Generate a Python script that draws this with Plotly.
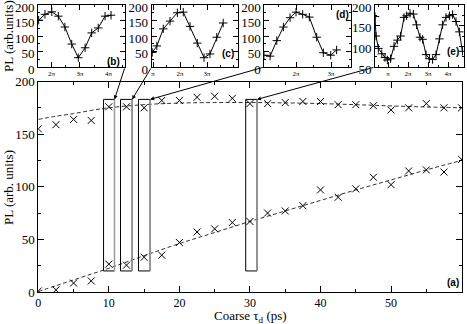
import plotly.graph_objects as go

W, H = 467, 324

# ---------------- main panel (a) data ----------------
tau = [0, 2.5, 5, 7.5, 10, 12.5, 15, 17.5, 20, 22.5, 25, 27.5, 30, 32.5, 35,
       37.5, 40, 42.5, 45, 47.5, 50, 52.5, 55, 57.5, 60]
pl_upper = [155, 159, 164, 163, 176, 176, 175, 182, 182, 185, 186, 184, 179, 179, 180,
            181, 181, 178, 178, 177, 173, 175, 179, 175, 175]
pl_lower = [1, 2, 8.5, 10.5, 26.5, 25.5, 33, 35, 47, 57, 60, 66, 67, 75, 77,
            82, 97, 90, 98, 109, 102, 115, 116, 114, 126]

fit_tau = [0, 2.5, 5, 7.5, 10, 15, 20, 25, 30, 35, 40, 45, 50, 55, 60]
fit_upper = [164, 167, 169.5, 172.5, 175, 178, 179.5, 180, 180, 179.7, 179, 178, 176.8, 175.8, 175]
fit_lower = [0.5, 6, 11.5, 17, 22.5, 34.5, 46, 56.5, 67, 77, 87, 97, 106.5, 116, 125]

# highlighted windows (fine-delay scans)
rect_x0 = [9.25, 11.65, 14.2, 29.4]
rect_x1 = [10.8, 13.3, 15.85, 31.0]
rect_bottom = 20
rect_top = 183

# ---------------- inset data (x in units of pi) ----------------
b_x = [1.55, 1.77, 2.01, 2.24, 2.47, 2.71, 2.94, 3.18, 3.41, 3.64, 3.88, 4.09]
b_y = [151, 170, 178, 164, 129, 74, 30, 62, 110, 126, 164, 167]

c_x = [0.97, 1.14, 1.38, 1.63, 1.90, 2.12, 2.37, 2.64, 2.89, 3.11, 3.36, 3.60]
c_y = [47, 68, 123, 148, 175, 177, 131, 77, 30, 42, 96, 142]

d_x = [1.09, 1.26, 1.45, 1.64, 1.83, 2.00, 2.19, 2.38, 2.59, 2.78, 2.99, 3.16]
d_y = [38, 35, 85, 129, 159, 177, 170, 161, 96, 46, 38, 55]

e_x = [0.35, 0.40, 0.52, 0.69, 0.85, 0.97, 1.13, 1.30, 1.47, 1.63, 1.80, 1.93, 2.10,
       2.27, 2.43, 2.60, 2.73, 2.90, 3.07, 3.23, 3.40, 3.57, 3.73, 3.90, 4.07, 4.23,
       4.40, 4.57, 4.72]
e_y = [172, 125, 95, 82, 73, 67, 70, 100, 115, 125, 170, 174, 180,
       178, 152, 122, 117, 80, 70, 68, 80, 118, 152, 170, 174, 177,
       160, 135, 88]

inset_labels = ["(b)", "(c)", "(d)", "(e)"]
inset_xticks = {
    "b": ([2, 3, 4], ["2π", "3π", "4π"]),
    "c": ([1, 2, 3], ["π", "2π", "3π"]),
    "d": ([2, 3], ["2π", "3π"]),
    "e": ([1, 2, 3, 4], ["π", "2π", "3π", "4π"]),
}

# ---------------- layout geometry (pixels) ----------------
main_px = (38.3, 462.3)
main_py = (81.5, 292.0)
main_xrange = [0, 60.1]
main_yrange = [0, 200]

inset_px = [(38.0, 125.0), (151.7, 238.3), (264.3, 351.0), (375.0, 464.0)]
inset_py = (5.0, 67.0)
inset_xranges = [[1.526, 4.58], [0.95, 4.16], [1.094, 3.57], [0.35, 4.8]]
inset_yranges = [[0, 200], [0, 200], [0, 200], [50, 200]]


def xdom(p):
    return [p[0] / W, p[1] / W]


def ydom(p):
    return [1 - p[1] / H, 1 - p[0] / H]


SERIF = "Liberation Serif"
fig = go.Figure()

line_dash = dict(color="#333333", width=1, dash="4px,2.5px")
fig.add_trace(go.Scatter(x=fit_tau, y=fit_upper, mode="lines", line=dict(line_dash, shape="spline"),
                         xaxis="x", yaxis="y", hoverinfo="skip"))
fig.add_trace(go.Scatter(x=fit_tau, y=fit_lower, mode="lines", line=dict(line_dash, shape="spline"),
                         xaxis="x", yaxis="y", hoverinfo="skip"))
mk = dict(symbol="x-thin-open", size=7, color="black", line=dict(color="black", width=1))
fig.add_trace(go.Scatter(x=tau, y=pl_upper, mode="markers", marker=mk, xaxis="x", yaxis="y"))
fig.add_trace(go.Scatter(x=tau, y=pl_lower, mode="markers", marker=mk, xaxis="x", yaxis="y"))

inset_data = [(b_x, b_y), (c_x, c_y), (d_x, d_y), (e_x, e_y)]
for i, (xs, ys) in enumerate(inset_data):
    n = i + 2
    fig.add_trace(go.Scatter(
        x=xs, y=ys, mode="lines+markers",
        line=dict(color="black", width=1),
        marker=dict(symbol="cross-thin-open", size=6, color="black", line=dict(color="black", width=1)),
        xaxis=f"x{n}", yaxis=f"y{n}"))

axis_common = dict(showline=True, linecolor="black", linewidth=1, mirror="ticks",
                   ticks="inside", tickcolor="black", showgrid=False, zeroline=False,
                   automargin=False, ticklabeloverflow="allow")

layout = dict(
    width=W, height=H, margin=dict(l=0, r=0, t=0, b=0, autoexpand=False),
    paper_bgcolor="white", plot_bgcolor="white", showlegend=False,
    font=dict(family=SERIF, color="black", size=13),
    xaxis=dict(axis_common, domain=xdom(main_px), range=main_xrange,
               tickvals=[0, 10, 20, 30, 40, 50], ticklen=6,
               minor=dict(tick0=0, dtick=5, ticks="inside", ticklen=3, tickcolor="black"),
               tickfont=dict(family=SERIF, size=12), anchor="y"),
    yaxis=dict(axis_common, domain=ydom(main_py), range=main_yrange,
               tickvals=[0, 50, 100, 150, 200], ticklen=6,
               minor=dict(tick0=0, dtick=25, ticks="inside", ticklen=3, tickcolor="black"),
               tickfont=dict(family=SERIF, size=13), anchor="x"),
)

keys = ["b", "c", "d", "e"]
for i in range(4):
    n = i + 2
    tv, tt = inset_xticks[keys[i]]
    yr = inset_yranges[i]
    layout[f"xaxis{n}"] = dict(axis_common, domain=xdom(inset_px[i]), range=inset_xranges[i],
                               tickvals=tv, ticktext=tt, ticklen=5,
                               minor=dict(tick0=0, dtick=0.5, ticks="inside", ticklen=2, tickcolor="black"),
                               tickfont=dict(family=SERIF, size=7), anchor=f"y{n}")
    layout[f"yaxis{n}"] = dict(axis_common, domain=ydom(inset_py), range=yr,
                               tickvals=list(range(int(yr[0]), 201, 50)), ticklen=5,
                               ticklabelshift=2,
                               minor=dict(tick0=0, dtick=25, ticks="inside", ticklen=2, tickcolor="black"),
                               tickfont=dict(family=SERIF, size=13), anchor=f"x{n}")

fig.update_layout(**layout)

# rectangles
shapes = []
for x0, x1 in zip(rect_x0, rect_x1):
    shapes.append(dict(type="rect", xref="x", yref="y", x0=x0, x1=x1, y0=rect_bottom, y1=rect_top,
                       line=dict(color="black", width=1), fillcolor="rgba(0,0,0,0)"))
    shapes.append(dict(type="line", xref="x", yref="y", x0=x1, x1=x1, y0=rect_bottom, y1=rect_top,
                       line=dict(color="#9a9a9a", width=1.5)))
fig.update_layout(shapes=shapes)


def main_to_px(x, y):
    px = main_px[0] + (x - main_xrange[0]) / (main_xrange[1] - main_xrange[0]) * (main_px[1] - main_px[0])
    py = main_py[1] - (y - main_yrange[0]) / (main_yrange[1] - main_yrange[0]) * (main_py[1] - main_py[0])
    return px, py


annotations = []
# arrows from inset corners to the windows
tails = [(inset_px[0][1], inset_py[1]), (inset_px[1][0], inset_py[1]),
         (inset_px[2][0], inset_py[1]), (inset_px[3][0], inset_py[1])]
for (tx, ty), x1 in zip(tails, rect_x1):
    hx, hy = main_to_px(x1, rect_top)
    annotations.append(dict(xref="x", yref="y", x=x1, y=rect_top, text="", showarrow=True,
                            axref="pixel", ayref="pixel", ax=tx - hx, ay=ty - hy,
                            arrowhead=2, arrowsize=0.8, arrowwidth=1, arrowcolor="black", standoff=0))

# panel labels
panel_pos = [(113, 62), (228, 54), (342, 15), (453, 51), (453, 282)]
for lab, (px, py) in zip(inset_labels + ["(a)"], panel_pos):
    annotations.append(dict(xref="paper", yref="paper", x=px / W, y=1 - py / H, text=f"<b>{lab}</b>",
                            showarrow=False, font=dict(family="Liberation Sans", size=10, color="black"),
                            xanchor="center", yanchor="middle"))

# axis titles
annotations.append(dict(xref="paper", yref="paper", x=8 / W, y=1 - 188 / H, text="PL (arb. units)",
                        textangle=-90, showarrow=False, font=dict(family=SERIF, size=13),
                        xanchor="center", yanchor="middle"))
annotations.append(dict(xref="paper", yref="paper", x=8 / W, y=1 - 36 / H, text="PL (arb.units)",
                        textangle=-90, showarrow=False, font=dict(family=SERIF, size=13),
                        xanchor="center", yanchor="middle"))
annotations.append(dict(xref="paper", yref="paper", x=250 / W, y=1 - 316 / H,
                        text="Coarse τ<sub>d</sub> (ps)", showarrow=False,
                        font=dict(family=SERIF, size=13), xanchor="center", yanchor="middle"))
fig.update_layout(annotations=annotations)

fig.write_html("out.html", config={"displayModeBar": False},
               post_script="document.body.style.margin='0';document.body.style.padding='0';")
